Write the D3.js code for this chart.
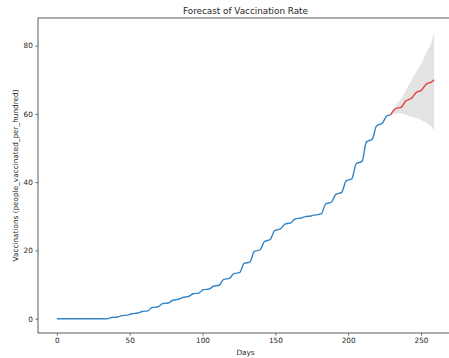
<!DOCTYPE html>
<html>
<head>
<meta charset="utf-8">
<script src="https://cdn.jsdelivr.net/npm/d3@7"></script>
<style>
  html, body { margin: 0; padding: 0; background: #ffffff; }
  svg { display: block; }
  text { font-family: "DejaVu Sans", sans-serif; fill: #262626; }
</style>
</head>
<body>
<svg id="chart" width="449" height="358"></svg>
<script>
// Observed vaccination rate (people vaccinated per hundred) by day
const histDays = [0, 34.5, 37.5, 41.5, 44.5, 48.5, 51.5, 55.5, 58.5, 62.5, 65.5, 69.5, 72.5,
  76.5, 79.5, 83.5, 86.5, 90.5, 93.5, 97.5, 100.5, 104.5, 107.5, 111.5, 114.5, 118.5, 121.5,
  125.5, 128.5, 132.5, 135.5, 139.5, 142.5, 146.5, 149.5, 153.5, 156.5, 160.5, 163.5,
  167.5, 170.5, 174.5, 177.5, 181.5, 184.5, 188.5, 191.5, 195.5, 198.5, 202.5, 205.5,
  209.5, 212.5, 216.5, 219.5, 223.5, 226.5, 229];
const histValues = [0, 0, 0.35, 0.5, 0.9, 1.05, 1.45, 1.65, 2.1, 2.3, 3.3, 3.5, 4.4,
  4.6, 5.4, 5.7, 6.2, 6.5, 7.3, 7.5, 8.5, 8.7, 9.5, 9.8, 11.5, 11.8, 13.2,
  13.5, 16.2, 16.6, 19.7, 20.2, 22.6, 23.2, 25.8, 26.3, 27.7, 28.1, 29.2,
  29.5, 29.9, 30.1, 30.4, 30.7, 33.6, 34.2, 36.4, 37.0, 40.3, 41.0, 45.4,
  46.1, 51.8, 52.6, 56.5, 57.3, 59.4, 59.7];

// Forecast continuation
const fcDays = [229, 232.5, 236.5, 239.5, 243.5, 246.5, 250.5, 253.5, 257.5, 259];
const fcValues = [59.7, 61.5, 62.0, 63.8, 64.6, 66.2, 67.0, 68.7, 69.4, 70.0];

// Forecast confidence interval
const bandDays = [229, 233, 236, 240, 243, 247, 250, 254, 257, 259];
const bandUpper = [59.9, 62.8, 64.2, 67.3, 69.5, 72.5, 74.5, 78.3, 80.8, 83.9];
const bandLower = [59.6, 60.1, 60.2, 59.7, 59.2, 58.7, 58.2, 57.3, 56.3, 55.2];

const xTicks = [0, 50, 100, 150, 200, 250];
const yTicks = [0, 20, 40, 60, 80];

const titleText = "Forecast of Vaccination Rate";
const xLabelText = "Days";
const yLabelText = "Vaccinations (people_vaccinated_per_hundred)";

const svg = d3.select("#chart");
const plot = { left: 38, right: 453, top: 18, bottom: 333 };

// 5% padding around the data extent on both axes
function padded(lo, hi) {
  const span = hi - lo;
  return [lo - span * 0.05, hi + span * 0.05];
}
const xMin = d3.min(histDays), xMax = d3.max(bandDays.concat(fcDays));
const yMin = Math.min(d3.min(histValues), d3.min(bandLower));
const yMax = Math.max(d3.max(fcValues), d3.max(bandUpper));

const x = d3.scaleLinear().domain(padded(xMin, xMax)).range([plot.left, plot.right]);
const y = d3.scaleLinear().domain(padded(yMin, yMax)).range([plot.bottom, plot.top]);

const hist = histDays.map((d, i) => ({ d, v: histValues[i] }));
const fc = fcDays.map((d, i) => ({ d, v: fcValues[i] }));
const band = bandDays.map((d, i) => ({ d, lo: bandLower[i], hi: bandUpper[i] }));

// Confidence band
svg.append("path")
  .datum(band)
  .attr("fill", "#e3e3e3")
  .attr("d", d3.area()
    .x(p => x(p.d))
    .y0(p => y(p.lo))
    .y1(p => y(p.hi))
    .curve(d3.curveMonotoneX));

// Observed series
svg.append("path")
  .datum(hist)
  .attr("fill", "none")
  .attr("stroke", "#3584c4")
  .attr("stroke-width", 1.4)
  .attr("stroke-linejoin", "round")
  .attr("d", d3.line().x(p => x(p.d)).y(p => y(p.v)).curve(d3.curveMonotoneX));

// Forecast series
svg.append("path")
  .datum(fc)
  .attr("fill", "none")
  .attr("stroke", "#ee3333")
  .attr("stroke-width", 1.3)
  .attr("stroke-linejoin", "round")
  .attr("d", d3.line().x(p => x(p.d)).y(p => y(p.v)).curve(d3.curveMonotoneX));

// Axes
const xAxis = d3.axisBottom(x).tickValues(xTicks).tickSize(2.6).tickPadding(2.5).tickSizeOuter(0);
const yAxis = d3.axisLeft(y).tickValues(yTicks).tickSize(2.6).tickPadding(2.5).tickSizeOuter(0);

const gx = svg.append("g").attr("transform", `translate(0,${plot.bottom})`).call(xAxis);
const gy = svg.append("g").attr("transform", `translate(${plot.left},0)`).call(yAxis);
[gx, gy].forEach(g => {
  g.select(".domain").remove();
  g.selectAll(".tick line").attr("stroke", "#333").attr("stroke-width", 0.7);
  g.selectAll(".tick text")
    .attr("font-family", "DejaVu Sans, sans-serif")
    .attr("font-size", 7.3)
    .attr("fill", "#262626");
});

// Frame
svg.append("rect")
  .attr("x", plot.left).attr("y", plot.top)
  .attr("width", plot.right - plot.left).attr("height", plot.bottom - plot.top)
  .attr("fill", "none").attr("stroke", "#333").attr("stroke-width", 0.8);

// Title and labels
const cx = (plot.left + plot.right) / 2;
svg.append("text").attr("x", cx).attr("y", 14)
  .attr("text-anchor", "middle").attr("font-size", 8.8).text(titleText);
svg.append("text").attr("x", cx).attr("y", 355)
  .attr("text-anchor", "middle").attr("font-size", 7.3).text(xLabelText);
svg.append("text")
  .attr("transform", `translate(18,${(plot.top + plot.bottom) / 2}) rotate(-90)`)
  .attr("text-anchor", "middle").attr("font-size", 7.3).text(yLabelText);
</script>
</body>
</html>
